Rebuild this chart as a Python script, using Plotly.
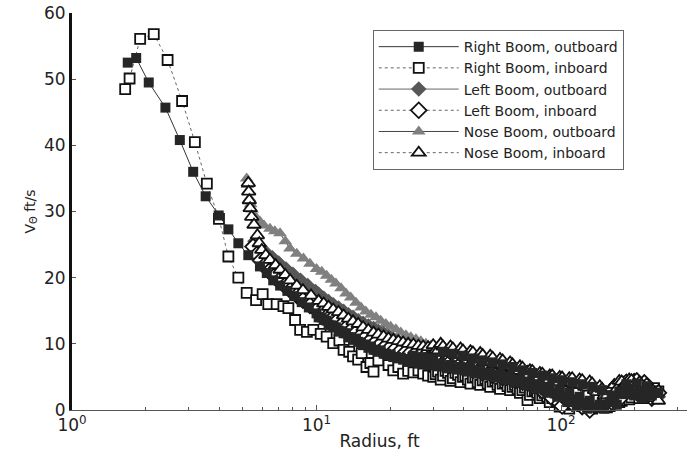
import plotly.graph_objects as go

# ---- data ----
# two radius grids used by the dense far-field part of the booms' records
far_x_a = [10.0, 10.5, 11.0, 11.5, 12.0, 12.6, 13.2, 13.8, 14.5, 15.2,
           15.9, 16.7, 17.5, 18.3, 19.2, 20.1, 21.1, 22.1, 23.2, 24.3,
           25.5, 26.7, 28.0, 29.3, 30.7, 32.2, 33.7, 35.3, 37.0, 38.8,
           40.6, 42.6, 44.6, 46.7, 49.0, 51.3, 53.8, 56.3, 59.0, 61.9,
           64.8, 67.9, 71.2, 74.6, 78.1, 81.9, 85.8, 89.9, 94.2, 98.7,
           103, 108, 113, 119, 125, 131, 137, 144, 150, 158,
           165, 173, 181, 190, 199, 209, 219, 229, 240]
far_x_b = [10.2, 10.7, 11.2, 11.7, 12.3, 12.9, 13.5, 14.1, 14.8, 15.5,
           16.3, 17.1, 17.9, 18.8, 19.7, 20.6, 21.6, 22.6, 23.7, 24.9,
           26.1, 27.3, 28.6, 30.0, 31.4, 32.9, 34.5, 36.1, 37.9, 39.7,
           41.6, 43.6, 45.6, 47.8, 50.1, 52.5, 55.0, 57.7, 60.4, 63.3,
           66.4, 69.5, 72.9, 76.3, 80.0, 83.8, 87.8, 92.0, 96.4, 101,
           106, 111, 116, 122, 128, 134, 140, 147, 154, 161,
           169, 177, 185, 194, 204, 214, 224, 235, 250]

# Right Boom, outboard
rb_out_near_x = [1.69, 1.83, 2.06, 2.41, 2.76, 3.13, 3.52, 3.98, 4.36, 4.79,
                 5.26, 5.87, 6.26, 6.65, 7.1, 7.6, 8.1, 8.7, 9.3]
rb_out_near_y = [52.5, 53.2, 49.5, 45.7, 40.8, 36.0, 32.3, 29.4, 27.3, 25.2,
                 23.4, 21.7, 20.7, 19.6, 18.8, 18.0, 17.2, 16.3, 15.5]
rb_out_far_a_y = [14.6, 14.0, 13.5, 12.8, 12.5, 11.9, 11.6, 11.0, 10.8, 10.2,
                  9.9, 9.6, 9.1, 9.0, 8.5, 8.4, 8.0, 7.9, 7.7, 7.7,
                  7.4, 7.5, 7.1, 7.2, 6.9, 7.0, 6.6, 6.8, 6.3, 6.5,
                  6.0, 6.3, 5.6, 6.0, 5.3, 5.6, 5.0, 5.4, 4.6, 5.0,
                  4.2, 4.6, 3.8, 4.3, 3.4, 3.9, 3.0, 3.5, 2.5, 3.0,
                  2.0, 2.6, 1.5, 2.0, 1.0, 1.4, 0.4, 0.8, 0.2, 1.2,
                  1.6, 2.8, 2.4, 3.2, 2.2, 2.8, 2.0, 3.0, 2.6]
rb_out_far_b_y = [14.0, 13.6, 12.9, 12.6, 12.0, 11.6, 11.0, 10.6, 10.3, 9.8,
                  9.4, 9.1, 8.8, 8.5, 8.3, 8.0, 7.8, 7.6, 7.3, 8.2,
                  7.0, 8.0, 6.8, 7.8, 6.6, 8.8, 6.3, 8.5, 6.1, 8.2,
                  5.8, 7.8, 5.5, 7.5, 5.2, 7.2, 4.9, 6.9, 4.6, 6.5,
                  4.2, 6.0, 3.7, 5.6, 3.2, 5.2, 2.6, 4.8, 2.0, 4.5,
                  1.2, 4.2, 0.6, 3.9, 0.2, 3.5, -0.3, 3.0, -0.4, 2.2,
                  0.8, 2.6, 3.9, 2.4, 4.0, 1.8, 3.6, 2.2, 2.6]

# Right Boom, inboard
rb_in_near_x = [1.65, 1.72, 1.90, 2.16, 2.46, 2.82, 3.18, 3.56, 3.99, 4.36,
                4.79, 5.18, 5.66, 6.02, 6.35, 6.87, 7.32, 7.67, 8.17, 8.57,
                9.13, 9.7, 10.4, 11.0, 11.7, 12.4, 12.9, 13.6, 14.1, 14.8,
                15.3, 16.0, 16.6, 17.1, 17.9]
rb_in_near_y = [48.5, 50.1, 56.1, 56.8, 52.9, 46.7, 40.5, 34.2, 28.9, 23.2,
                20.0, 17.7, 16.6, 17.5, 16.0, 16.0, 15.7, 15.4, 13.6, 12.1,
                11.8, 12.1, 11.5, 11.1, 10.1, 10.5, 9.1, 8.8, 8.1, 7.6,
                8.6, 6.5, 7.1, 5.8, 7.5]
rb_in_far_b_y = [6.8, 6.0, 6.5, 5.5, 5.9, 5.7, 6.0, 5.5, 5.2, 5.0,
                 5.8, 5.2, 5.6, 4.8, 5.3, 5.0, 4.6, 4.9, 4.2, 4.5,
                 4.0, 4.3, 3.8, 4.0, 3.6, 3.5, 3.2, 3.0, 1.5, 2.8,
                 2.6, 2.2, 2.0, 1.8, 1.2, 1.5, 1.0, 0.8, 1.3, 0.6,
                 0.9, 0.2, 0.5, -0.2, 0.4, 1.0, 1.8, 1.4, 2.2, 1.9,
                 2.5, 2.2, 2.8, 2.4, 2.8]
rb_in_far_a_y = [5.4, 4.6, 5.9, 4.4, 5.6, 4.2, 5.2, 4.0, 5.0, 3.8,
                 4.7, 3.5, 4.4, 3.2, 4.1, 3.0, 3.8, 2.6, 3.4, 2.3,
                 3.0, 1.8, 2.6, 1.2, 2.2, 0.5, 1.6, 0.2, 1.2, -0.1,
                 0.8, -0.4, 0.6, -0.5, 0.4, 0.6, 1.6, 1.2, 2.4, 1.6,
                 2.6, 1.8, 2.4, 1.8, 3.3]

# Left Boom, outboard
lb_out_near_x = [5.6, 5.9, 6.2, 6.6, 7.0, 7.5, 8.0, 8.6, 9.2, 9.9]
lb_out_near_y = [25.5, 24.6, 23.8, 23.0, 22.2, 21.3, 20.5, 19.6, 18.8, 17.9]
lb_out_far_y = [17.5, 16.9, 16.4, 15.9, 15.4, 14.9, 14.4, 14.0, 13.5, 13.1,
                12.7, 12.3, 11.9, 11.5, 11.1, 10.7, 10.3, 9.9, 9.5, 9.1,
                8.8, 8.4, 8.1, 7.9, 7.1, 7.3, 6.5, 6.7, 5.9, 6.1,
                5.3, 5.6, 4.7, 5.1, 4.3, 4.7, 3.8, 4.3, 3.3, 3.8,
                2.9, 3.4, 2.5, 3.0, 2.2, 2.7, 1.8, 2.4, 1.5, 2.2,
                1.6, 2.7, 2.4, 3.7, 3.2, 3.6, 2.2, 2.4, 1.1, 2.2,
                2.0, 3.3, 3.0, 4.1, 2.9, 3.3, 2.2, 2.6, 2.0]

# Left Boom, inboard
lb_in_near_x = [5.5, 5.7, 5.9, 6.1, 6.4, 6.7, 7.0, 7.4, 7.8, 8.3, 8.8, 9.4]
lb_in_near_y = [24.7, 23.5, 22.6, 21.8, 21.0, 20.2, 19.5, 18.8, 18.1, 17.3, 16.6, 15.8]
lb_in_far_a_y = [15.1, 14.6, 14.1, 13.7, 13.3, 12.8, 12.4, 12.0, 11.7, 11.3,
                 11.0, 10.6, 10.3, 10.0, 9.7, 9.5, 9.3, 9.0, 8.8, 8.7,
                 8.6, 8.4, 8.3, 8.2, 8.6, 7.6, 8.5, 7.3, 8.1, 6.9,
                 7.7, 6.5, 7.3, 6.1, 6.9, 5.7, 6.5, 5.3, 6.1, 4.9,
                 5.7, 4.5, 5.2, 4.0, 4.6, 3.2, 3.8, 2.3, 2.7, 1.0,
                 1.9, 1.4, 2.7, 1.1, 1.5, 0.0, 0.7, -0.1, 1.3, 0.9,
                 2.5, 2.3, 3.9, 3.3, 4.3, 3.6, 4.1, 3.0, 2.2]
lb_in_far_b_y = [7.6, 8.9, 7.0, 8.4, 6.8, 8.0, 6.4, 7.6, 6.0, 7.3,
                 5.6, 7.0, 5.2, 6.6, 4.9, 6.3, 4.6, 5.9, 4.2, 5.5,
                 3.6, 4.8, 2.9, 4.2, 1.8, 3.5, 0.6, 2.9, 1.0, 3.0,
                 0.5, 2.2, -0.4, 1.6, -0.2, 1.8, 1.2, 3.2, 2.0, 4.2,
                 2.8, 4.4, 2.6, 3.6, 1.8, 2.6]

# Nose Boom, outboard
nb_out_near_x = [5.18, 5.22, 5.27, 5.32, 5.38, 5.45, 5.52, 5.6, 5.7, 5.87,
                 6.1, 6.45, 6.75, 7.09, 7.45, 7.79, 8.3, 8.84, 9.4]
nb_out_near_y = [35.0, 34.0, 33.0, 32.0, 31.1, 30.3, 29.6, 29.2, 28.9, 28.5,
                 27.9, 27.4, 27.0, 26.7, 25.5, 24.4, 23.6, 22.9, 22.1]
nb_out_far_y = [21.3, 20.9, 20.3, 19.7, 19.1, 18.4, 17.6, 17.0, 16.2, 15.5,
                14.9, 14.4, 14.0, 13.5, 13.0, 12.6, 12.2, 11.7, 11.3, 11.0,
                10.7, 10.4, 10.0, 9.7, 9.6, 8.7, 8.9, 8.0, 8.3, 7.4,
                7.7, 6.9, 7.2, 6.4, 6.8, 5.9, 6.3, 5.5, 5.8, 5.0,
                5.4, 4.5, 4.9, 4.1, 4.5, 3.7, 4.1, 3.3, 3.7, 3.0,
                3.8, 3.5, 4.3, 3.3, 3.5, 2.5, 2.7, 1.7, 2.1, 1.9,
                2.9, 2.7, 3.5, 2.7, 3.0, 2.1, 2.6, 2.2, 2.4]

# Nose Boom, inboard
nb_in_near_x = [5.26, 5.28, 5.31, 5.35, 5.43, 5.55, 5.73, 5.83, 5.97, 6.2,
                6.45, 6.8, 7.1, 7.45, 7.8, 8.3, 8.8, 9.5]
nb_in_near_y = [34.3, 33.0, 31.7, 30.5, 29.2, 28.0, 26.4, 25.2, 24.2, 23.4,
                22.7, 21.9, 21.2, 20.4, 19.6, 18.8, 18.1, 17.3]
nb_in_far_b_y = [16.5, 16.1, 15.6, 15.2, 14.8, 14.3, 13.8, 13.4, 13.0, 12.5,
                 12.1, 11.7, 11.4, 11.1, 10.8, 10.6, 10.4, 10.2, 10.0, 9.9,
                 9.7, 9.6, 9.5, 9.8, 9.0, 9.6, 8.6, 9.3, 8.3, 9.0,
                 8.0, 8.7, 7.7, 8.3, 7.3, 7.9, 6.9, 7.5, 6.5, 6.9,
                 5.9, 6.4, 5.3, 5.9, 4.9, 5.5, 4.5, 5.2, 4.2, 4.9,
                 4.1, 4.8, 3.8, 4.5, 3.4, 4.0, 2.7, 3.2, 2.2, 3.3,
                 3.2, 4.3, 4.0, 4.5, 3.5, 3.8, 2.5, 2.4, 1.4]
nb_in_far_a_y = [9.0, 10.0, 8.7, 9.6, 8.3, 9.3, 8.0, 8.9, 7.6, 8.6,
                 7.2, 8.2, 6.8, 7.7, 6.3, 7.2, 5.8, 6.6, 5.2, 6.0,
                 4.8, 5.6, 4.4, 5.2, 4.2, 5.0, 4.0, 4.8, 3.8, 4.6,
                 3.5, 4.3, 3.0, 3.6, 2.2, 3.0, 3.8, 4.4, 3.8, 4.6,
                 3.9, 4.2, 3.0, 2.6, 1.8]

x_tick_vals = [1, 10, 100]
x_tick_text = ["10<sup>0</sup>", "10<sup>1</sup>", "10<sup>2</sup>"]
x_minor_vals = [m * 10 ** k for k in range(3) for m in range(2, 10)]


def ordered(xs, ys):
    pairs = sorted(zip(xs, ys), key=lambda p: p[0])
    return [p[0] for p in pairs], [p[1] for p in pairs]


rb_out_x, rb_out_y = ordered(rb_out_near_x + far_x_a + far_x_b,
                             rb_out_near_y + rb_out_far_a_y + rb_out_far_b_y)
rb_in_x, rb_in_y = ordered(rb_in_near_x + far_x_b[14:] + far_x_a[24:],
                           rb_in_near_y + rb_in_far_b_y + rb_in_far_a_y)
lb_out_x, lb_out_y = ordered(lb_out_near_x + far_x_b, lb_out_near_y + lb_out_far_y)
lb_in_x, lb_in_y = ordered(lb_in_near_x + far_x_a + far_x_b[23:],
                           lb_in_near_y + lb_in_far_a_y + lb_in_far_b_y)
nb_out_x, nb_out_y = ordered(nb_out_near_x + far_x_a, nb_out_near_y + nb_out_far_y)
nb_in_x, nb_in_y = ordered(nb_in_near_x + far_x_b + far_x_a[24:],
                           nb_in_near_y + nb_in_far_b_y + nb_in_far_a_y)

# (legend rank, name, x, y, symbol, size, fill, outline, outline width, line colour, dash)
# listed in drawing order; legendrank keeps the reference's legend order
series = [
    (5, "Nose Boom, outboard", nb_out_x, nb_out_y,
     "triangle-up", 12, "#808080", "#808080", 0, "#444444", "solid"),
    (3, "Left Boom, outboard", lb_out_x, lb_out_y,
     "diamond", 12, "#575757", "#575757", 0, "#666666", "solid"),
    (2, "Right Boom, inboard", rb_in_x, rb_in_y,
     "square", 10, "white", "#111111", 1.8, "#666666", "dot"),
    (4, "Left Boom, inboard", lb_in_x, lb_in_y,
     "diamond", 12, "white", "#111111", 1.8, "#666666", "dot"),
    (6, "Nose Boom, inboard", nb_in_x, nb_in_y,
     "triangle-up", 12, "white", "#111111", 1.8, "#666666", "dot"),
    (1, "Right Boom, outboard", rb_out_x, rb_out_y,
     "square", 10, "#262626", "#262626", 0, "#333333", "solid"),
]

fig = go.Figure()
for rank, name, xs, ys, sym, size, fill, mline, mlw, lcol, dash in series:
    fig.add_trace(go.Scatter(
        x=xs, y=ys, name=name, legendrank=rank, mode="lines+markers",
        cliponaxis=False,
        line=dict(color=lcol, width=1, dash=dash),
        marker=dict(symbol=sym, size=size, color=fill,
                    line=dict(color=mline, width=mlw)),
    ))

fig.update_layout(
    width=693, height=451,
    margin=dict(l=72, r=6, t=13, b=41),
    plot_bgcolor="white", paper_bgcolor="white",
    font=dict(family="DejaVu Sans", size=17, color="#222222"),
    showlegend=True,
    legend=dict(x=0.489, y=0.957, xanchor="left", yanchor="top",
                bgcolor="white", bordercolor="#666666", borderwidth=1,
                itemwidth=80, font=dict(size=14), tracegroupgap=0),
)
fig.update_xaxes(
    type="log", range=[0, 2.515], automargin=False,
    tickmode="array", tickvals=x_tick_vals, ticktext=x_tick_text,
    ticks="inside", ticklen=5, tickcolor="#555555",
    showline=True, linecolor="#555555", linewidth=1,
    showgrid=False, zeroline=False,
    minor=dict(tickmode="array", tickvals=x_minor_vals, ticks="inside",
               ticklen=3, tickcolor="#555555", showgrid=False),
    title=dict(text="Radius, ft", standoff=0, font=dict(size=17)),
)
fig.update_yaxes(
    range=[0, 60], dtick=10, automargin=False,
    ticks="inside", ticklen=4, tickcolor="#555555",
    showline=True, linecolor="#111111", linewidth=3,
    showgrid=False, zeroline=False,
    title=dict(text="V<sub>Θ</sub> ft/s", standoff=6, font=dict(size=14)),
)

fig.write_html("out.html")
